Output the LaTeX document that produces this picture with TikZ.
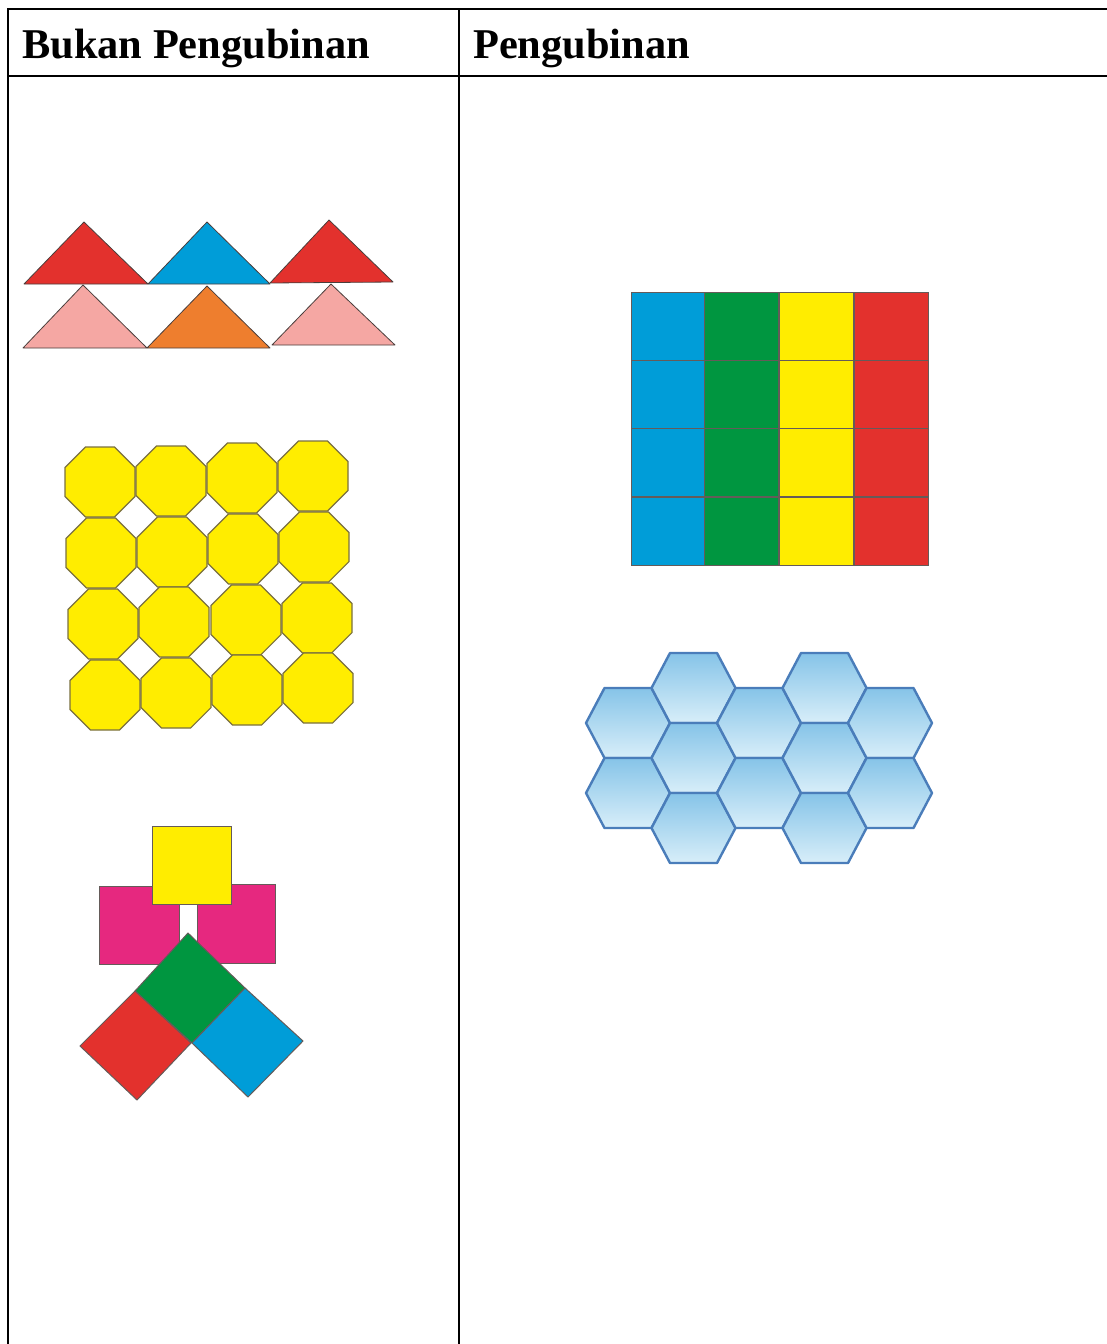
\documentclass[tikz,border=0pt]{standalone}
\usepackage{fontspec}
\setmainfont{Liberation Serif}
\usetikzlibrary{calc}
\definecolor{tred}{HTML}{E3312D}
\definecolor{tblue}{HTML}{009DD8}
\definecolor{tpink}{HTML}{F5A7A3}
\definecolor{torange}{HTML}{EE7E2E}
\definecolor{tyellow}{HTML}{FFED00}
\definecolor{tgreen}{HTML}{009640}
\definecolor{tmagenta}{HTML}{E6287F}
\definecolor{hexline}{HTML}{4A7DBA}
\definecolor{hextop}{HTML}{86C4E8}
\definecolor{hexbot}{HTML}{D8EEF9}
\definecolor{octline}{HTML}{7A7040}
\definecolor{tileline}{HTML}{4A3E3C}
\tikzset{
  rule/.style={line width=2.9pt, line cap=rect},
  head/.style={anchor=base west, inner sep=0pt, font=\fontsize{42.4}{50}\selectfont\bfseries},
  tri/.style={draw=tileline, line width=0.8pt, line join=round},
  oct/.style={draw=octline, line width=1.1pt, fill=tyellow},
  sq/.style={draw=tileline!85, line width=1pt},
  hexa/.style={draw=hexline, line width=2.4pt, line join=round, top color=hextop, bottom color=hexbot}
}
\begin{document}
\begin{tikzpicture}[x=1pt,y=-1pt]
\useasboundingbox (0,0) rectangle (1107,1344);
% table
\draw[rule] (1107,9) -- (8,9) -- (8,1344);
\draw[rule] (8,76) -- (1107,76);
\draw[rule] (459,9) -- (459,1344);
\node[head] (h1) at (22,58) {Bukan Pengubinan};
\node[head] (h2) at (473,58) {Pengubinan};

% triangles
\draw[tri, fill=tred] (24,284) -- (84,222) -- (148,284) -- cycle;
\draw[tri, fill=tblue] (148,284) -- (207,222) -- (270,284) -- cycle;
\draw[tri, fill=tred] (270,283) -- (329,220) -- (393,282) -- cycle;
\draw[tri, fill=tpink] (23,348) -- (83,285) -- (147,348) -- cycle;
\draw[tri, fill=torange] (147,348) -- (207,286) -- (270,348) -- cycle;
\draw[tri, fill=tpink] (272,345) -- (331,284) -- (395,345) -- cycle;

% octagons
\foreach \cx/\cy in {100/482,171/481,242/478,313/476,
                     101/553,172/552,243/549,314/547,
                     103/624,174/622,246/620,317/618,
                     105/695,176/693,247/690,318/688}{
  \draw[oct] (\cx,\cy) ++(22.5:37.9) -- ++(135:29) -- ++(180:29) -- ++(225:29) -- ++(270:29)
     -- ++(315:29) -- ++(0:29) -- ++(45:29) -- cycle;
}

% figure of squares
\draw[sq, fill=tmagenta] (99,886) rectangle (179,964);
\draw[sq, fill=tmagenta] (197,884) rectangle (275,963);
\draw[sq, fill=tyellow] (152,826) rectangle (231,904);
\draw[sq, fill=tgreen] (188,933) -- (245,988) -- (192,1043) -- (135,991) -- cycle;
\draw[sq, fill=tred] (135,991) -- (191,1043) -- (137,1100) -- (80,1046) -- cycle;
\draw[sq, fill=tblue] (192,1043) -- (245,988) -- (303,1041) -- (248,1097) -- cycle;

% square grid
\foreach \x/\c in {631/tblue,704/tgreen,779/tyellow,854/tred}{
  \foreach \y in {292,360,428,497}{
    \pgfmathsetmacro{\xx}{\x+74}
    \pgfmathsetmacro{\yy}{\y+68}
    \draw[sq, fill=\c] (\x,\y) rectangle (\xx,\yy);
  }
}

% hexagons
\foreach \cx/\cy in {628/723,628/793,
                     693.5/688,693.5/758,693.5/828,
                     759/723,759/793,
                     824.5/688,824.5/758,824.5/828,
                     890/723,890/793}{
  \draw[hexa] ($(\cx,\cy)+(-42,0)$) -- ++(18.5,-35) -- ++(47,0) -- ++(18.5,35) -- ++(-18.5,35) -- ++(-47,0) -- cycle;
}
\end{tikzpicture}
\end{document}
